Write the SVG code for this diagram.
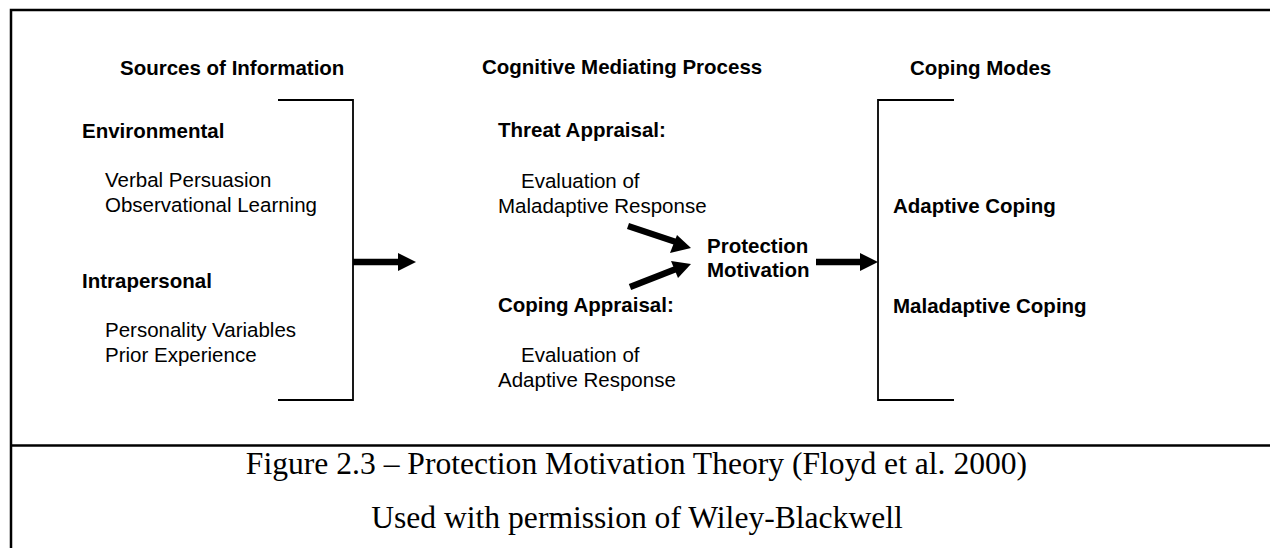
<svg xmlns="http://www.w3.org/2000/svg" width="1270" height="548" viewBox="0 0 1270 548">
  <style>
    .b { font-family: "Liberation Sans", Arial, sans-serif; font-size: 20.5px; font-weight: bold; fill: #000; }
    .r { font-family: "Liberation Sans", Arial, sans-serif; font-size: 20.5px; fill: #000; }
    .cap { font-family: "Liberation Serif", "Times New Roman", serif; font-size: 31.6px; fill: #000; text-anchor: middle; }
    .frame { fill: none; stroke: #000; stroke-width: 2.5; }
    .bracket { fill: none; stroke: #000; stroke-width: 1.8; }
    .shaft { stroke: #000; stroke-width: 6.5; fill: none; }
    .head { fill: #000; stroke: none; }
  </style>
  <rect x="0" y="0" width="1270" height="548" fill="#fff"/>
  <g id="frame">
    <path class="frame" d="M11,548 V10 H1270"/>
    <path class="frame" d="M11,445.5 H1270"/>
  </g>
  <g id="sources">
    <text class="b" x="120" y="75">Sources of Information</text>
    <text class="b" x="82" y="138">Environmental</text>
    <text class="r" x="105" y="187">Verbal Persuasion</text>
    <text class="r" x="105" y="212">Observational Learning</text>
    <text class="b" x="82" y="288">Intrapersonal</text>
    <text class="r" x="105" y="337">Personality Variables</text>
    <text class="r" x="105" y="362">Prior Experience</text>
    <path class="bracket" d="M278,100 H353 V400 H278"/>
  </g>
  <g id="cognitive">
    <text class="b" x="482" y="74">Cognitive Mediating Process</text>
  </g>
  <g id="threat">
    <text class="b" x="498" y="137">Threat Appraisal:</text>
    <text class="r" x="521" y="188">Evaluation of</text>
    <text class="r" x="498" y="213">Maladaptive Response</text>
  </g>
  <g id="coping-appraisal">
    <text class="b" x="498" y="312">Coping Appraisal:</text>
    <text class="r" x="521" y="362">Evaluation of</text>
    <text class="r" x="498" y="387">Adaptive Response</text>
  </g>
  <g id="protection">
    <text class="b" x="707" y="253">Protection</text>
    <text class="b" x="707" y="277">Motivation</text>
  </g>
  <g id="coping-modes">
    <text class="b" x="910" y="75">Coping Modes</text>
    <text class="b" x="893" y="213">Adaptive Coping</text>
    <text class="b" x="893" y="313">Maladaptive Coping</text>
    <path class="bracket" d="M954,100 H878 V400 H954"/>
  </g>
  <g id="connectors">
    <line class="shaft" x1="353" y1="262" x2="400" y2="262"/>
    <polygon class="head" points="398,253 416,262 398,271"/>
    <line class="shaft" x1="816" y1="262" x2="862" y2="262"/>
    <polygon class="head" points="860,253 878,262 860,271"/>
    <line class="shaft" x1="628" y1="226" x2="676" y2="242"/>
    <polygon class="head" points="691,248 670,253 677,235"/>
    <line class="shaft" x1="630" y1="287" x2="676" y2="269"/>
    <polygon class="head" points="691,264 678,278 671,261"/>
  </g>
  <g id="caption">
    <text class="cap" x="636.5" y="474">Figure 2.3 – Protection Motivation Theory (Floyd et al. 2000)</text>
    <text class="cap" x="637" y="528">Used with permission of Wiley-Blackwell</text>
  </g>
</svg>
